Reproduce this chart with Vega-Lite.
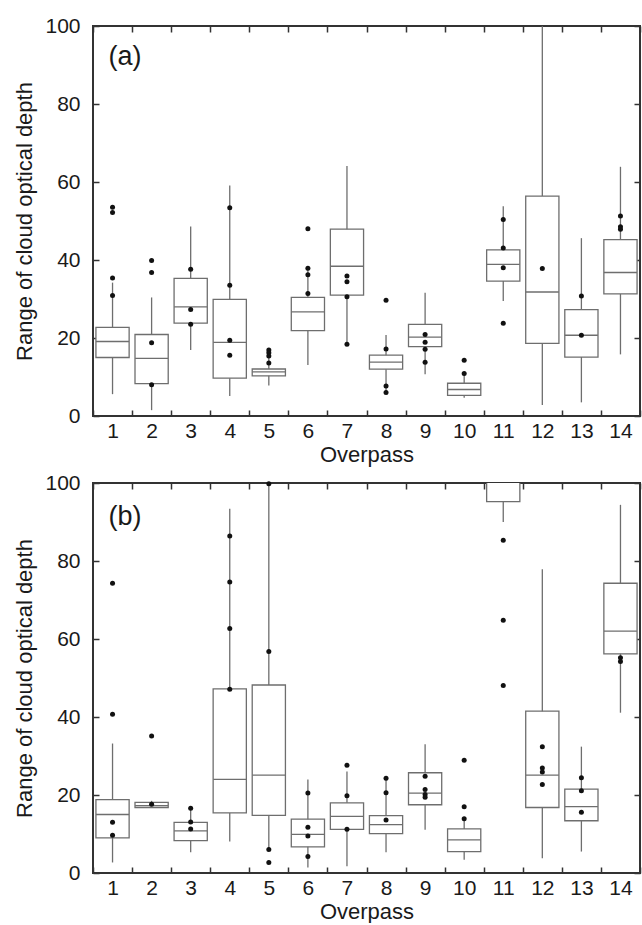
{
  "$schema": "https://vega.github.io/schema/vega-lite/v6.json",
  "padding": {"left": 12, "top": 14, "right": 1, "bottom": 0},
  "bounds": "flush",
  "spacing": 67,
  "config": {
    "font": "Liberation Sans",
    "view": {"stroke": "#333333", "strokeWidth": 2},
    "axis": {"domain": false, "grid": false, "labelFontSize": 21, "titleFontSize": 22, "titleFontWeight": "normal", "labelColor": "#1a1a1a", "titleColor": "#1a1a1a", "tickColor": "#333333", "tickSize": -6, "tickWidth": 1.5, "labelAngle": 0}
  },
  "datasets": {
    "boxes": [
      {"panel": "a", "op": 1, "lo": 5.6, "q1": 15.0, "med": 19.1, "q3": 22.7, "hi": 34.2},
      {"panel": "a", "op": 2, "lo": 1.5, "q1": 8.3, "med": 14.8, "q3": 20.9, "hi": 30.4},
      {"panel": "a", "op": 3, "lo": 16.9, "q1": 23.8, "med": 28.0, "q3": 35.3, "hi": 48.6},
      {"panel": "a", "op": 4, "lo": 5.1, "q1": 9.7, "med": 18.9, "q3": 29.9, "hi": 59.1},
      {"panel": "a", "op": 5, "lo": 7.8, "q1": 10.3, "med": 11.3, "q3": 12.05, "hi": 16.9},
      {"panel": "a", "op": 6, "lo": 13.1, "q1": 21.9, "med": 26.7, "q3": 30.4, "hi": 37.9},
      {"panel": "a", "op": 7, "lo": 18.4, "q1": 31.0, "med": 38.4, "q3": 47.9, "hi": 64.1},
      {"panel": "a", "op": 8, "lo": 6.0, "q1": 12.0, "med": 13.8, "q3": 15.6, "hi": 20.8},
      {"panel": "a", "op": 9, "lo": 10.7, "q1": 17.8, "med": 20.2, "q3": 23.5, "hi": 31.6},
      {"panel": "a", "op": 10, "lo": 4.7, "q1": 5.3, "med": 6.8, "q3": 8.4, "hi": 10.9},
      {"panel": "a", "op": 11, "lo": 29.5, "q1": 34.6, "med": 38.9, "q3": 42.6, "hi": 53.8},
      {"panel": "a", "op": 12, "lo": 2.8, "q1": 18.6, "med": 31.8, "q3": 56.4, "hi": 110},
      {"panel": "a", "op": 13, "lo": 3.5, "q1": 15.1, "med": 20.7, "q3": 27.3, "hi": 45.6},
      {"panel": "a", "op": 14, "lo": 15.8, "q1": 31.3, "med": 36.8, "q3": 45.2, "hi": 63.9},
      {"panel": "b", "op": 1, "lo": 2.7, "q1": 9.0, "med": 15.0, "q3": 18.8, "hi": 33.2},
      {"panel": "b", "op": 2, "lo": 16.8, "q1": 16.8, "med": 17.3, "q3": 18.1, "hi": 18.5},
      {"panel": "b", "op": 3, "lo": 5.3, "q1": 8.3, "med": 10.8, "q3": 13.0, "hi": 16.6},
      {"panel": "b", "op": 4, "lo": 8.1, "q1": 15.4, "med": 24.0, "q3": 47.2, "hi": 93.4},
      {"panel": "b", "op": 5, "lo": 6.0, "q1": 14.8, "med": 25.1, "q3": 48.2, "hi": 99.5},
      {"panel": "b", "op": 6, "lo": 1.4, "q1": 6.7, "med": 9.9, "q3": 13.8, "hi": 24.0},
      {"panel": "b", "op": 7, "lo": 1.7, "q1": 11.2, "med": 14.5, "q3": 18.0, "hi": 26.0},
      {"panel": "b", "op": 8, "lo": 5.3, "q1": 10.1, "med": 12.4, "q3": 14.7, "hi": 24.3},
      {"panel": "b", "op": 9, "lo": 11.1, "q1": 17.5, "med": 20.5, "q3": 25.7, "hi": 33.0},
      {"panel": "b", "op": 10, "lo": 3.4, "q1": 5.5, "med": 8.5, "q3": 11.3, "hi": 13.9},
      {"panel": "b", "op": 11, "lo": 90.0, "q1": 95.2, "med": 105, "q3": 115, "hi": 120},
      {"panel": "b", "op": 12, "lo": 3.8, "q1": 16.8, "med": 25.1, "q3": 41.5, "hi": 77.9},
      {"panel": "b", "op": 13, "lo": 5.5, "q1": 13.4, "med": 17.0, "q3": 21.5, "hi": 32.4},
      {"panel": "b", "op": 14, "lo": 41.1, "q1": 56.2, "med": 62.0, "q3": 74.3, "hi": 94.4}
    ],
    "pts": [
      {"panel": "a", "op": 1, "v": 53.5}, {"panel": "a", "op": 1, "v": 52.2}, {"panel": "a", "op": 1, "v": 35.4}, {"panel": "a", "op": 1, "v": 30.9},
      {"panel": "a", "op": 2, "v": 39.9}, {"panel": "a", "op": 2, "v": 36.8}, {"panel": "a", "op": 2, "v": 18.8}, {"panel": "a", "op": 2, "v": 8.0},
      {"panel": "a", "op": 3, "v": 37.6}, {"panel": "a", "op": 3, "v": 27.3}, {"panel": "a", "op": 3, "v": 23.5},
      {"panel": "a", "op": 4, "v": 53.4}, {"panel": "a", "op": 4, "v": 33.5}, {"panel": "a", "op": 4, "v": 19.4}, {"panel": "a", "op": 4, "v": 15.6},
      {"panel": "a", "op": 5, "v": 16.9}, {"panel": "a", "op": 5, "v": 16.2}, {"panel": "a", "op": 5, "v": 15.4}, {"panel": "a", "op": 5, "v": 13.6},
      {"panel": "a", "op": 6, "v": 48.0}, {"panel": "a", "op": 6, "v": 37.9}, {"panel": "a", "op": 6, "v": 36.2}, {"panel": "a", "op": 6, "v": 31.4},
      {"panel": "a", "op": 7, "v": 35.9}, {"panel": "a", "op": 7, "v": 34.4}, {"panel": "a", "op": 7, "v": 30.6}, {"panel": "a", "op": 7, "v": 18.4},
      {"panel": "a", "op": 8, "v": 29.7}, {"panel": "a", "op": 8, "v": 17.2}, {"panel": "a", "op": 8, "v": 7.7}, {"panel": "a", "op": 8, "v": 6.0},
      {"panel": "a", "op": 9, "v": 20.9}, {"panel": "a", "op": 9, "v": 18.9}, {"panel": "a", "op": 9, "v": 17.1}, {"panel": "a", "op": 9, "v": 13.8},
      {"panel": "a", "op": 10, "v": 14.3}, {"panel": "a", "op": 10, "v": 10.9},
      {"panel": "a", "op": 11, "v": 50.4}, {"panel": "a", "op": 11, "v": 43.1}, {"panel": "a", "op": 11, "v": 38.0}, {"panel": "a", "op": 11, "v": 23.8},
      {"panel": "a", "op": 12, "v": 37.8},
      {"panel": "a", "op": 13, "v": 30.8}, {"panel": "a", "op": 13, "v": 20.7},
      {"panel": "a", "op": 14, "v": 51.3}, {"panel": "a", "op": 14, "v": 48.5}, {"panel": "a", "op": 14, "v": 47.9},
      {"panel": "b", "op": 1, "v": 74.3}, {"panel": "b", "op": 1, "v": 40.7}, {"panel": "b", "op": 1, "v": 13.0}, {"panel": "b", "op": 1, "v": 9.7},
      {"panel": "b", "op": 2, "v": 35.1}, {"panel": "b", "op": 2, "v": 17.6},
      {"panel": "b", "op": 3, "v": 16.6}, {"panel": "b", "op": 3, "v": 13.1}, {"panel": "b", "op": 3, "v": 11.3},
      {"panel": "b", "op": 4, "v": 86.4}, {"panel": "b", "op": 4, "v": 74.6}, {"panel": "b", "op": 4, "v": 62.7}, {"panel": "b", "op": 4, "v": 47.1},
      {"panel": "b", "op": 5, "v": 99.8}, {"panel": "b", "op": 5, "v": 56.8}, {"panel": "b", "op": 5, "v": 6.0}, {"panel": "b", "op": 5, "v": 2.7},
      {"panel": "b", "op": 6, "v": 20.5}, {"panel": "b", "op": 6, "v": 11.7}, {"panel": "b", "op": 6, "v": 9.5}, {"panel": "b", "op": 6, "v": 4.2},
      {"panel": "b", "op": 7, "v": 27.6}, {"panel": "b", "op": 7, "v": 19.8}, {"panel": "b", "op": 7, "v": 11.2},
      {"panel": "b", "op": 8, "v": 24.3}, {"panel": "b", "op": 8, "v": 20.6}, {"panel": "b", "op": 8, "v": 13.6},
      {"panel": "b", "op": 9, "v": 24.8}, {"panel": "b", "op": 9, "v": 21.4}, {"panel": "b", "op": 9, "v": 20.1}, {"panel": "b", "op": 9, "v": 19.4},
      {"panel": "b", "op": 10, "v": 28.9}, {"panel": "b", "op": 10, "v": 17.0}, {"panel": "b", "op": 10, "v": 13.9},
      {"panel": "b", "op": 11, "v": 85.3}, {"panel": "b", "op": 11, "v": 64.8}, {"panel": "b", "op": 11, "v": 48.1},
      {"panel": "b", "op": 12, "v": 32.4}, {"panel": "b", "op": 12, "v": 26.9}, {"panel": "b", "op": 12, "v": 25.9}, {"panel": "b", "op": 12, "v": 22.7},
      {"panel": "b", "op": 13, "v": 24.4}, {"panel": "b", "op": 13, "v": 21.1}, {"panel": "b", "op": 13, "v": 15.6},
      {"panel": "b", "op": 14, "v": 55.2}, {"panel": "b", "op": 14, "v": 54.2}
    ],
    "labels": [
      {"panel": "a", "op": 1, "v": 92, "label": "(a)"},
      {"panel": "b", "op": 1, "v": 91.3, "label": "(b)"}
    ]
  },
  "vconcat": [
    {
      "width": 547, "height": 390,
      "resolve": {"axis": {"x": "independent", "y": "independent"}},
      "layer": [
        {
          "data": {"name": "boxes"}, "transform": [{"filter": "datum.panel == 'a'"}],
          "mark": {"type": "rule", "color": "#6e6e6e", "strokeWidth": 1.3, "clip": true},
          "encoding": {
            "x": {"field": "op", "type": "ordinal", "scale": {"domain": [1,2,3,4,5,6,7,8,9,10,11,12,13,14], "paddingInner": 0, "paddingOuter": 0}, "axis": {"orient": "bottom", "title": "Overpass", "tickBand": "extent", "labelPadding": 10, "titlePadding": 3}},
            "y": {"field": "lo", "type": "quantitative", "scale": {"domain": [0, 100], "nice": false}, "axis": {"orient": "left", "values": [0,20,40,60,80,100], "title": "Range of cloud optical depth", "labelPadding": 19, "titlePadding": 8}},
            "y2": {"field": "hi"}
          }
        },
        {
          "data": {"name": "boxes"}, "transform": [{"filter": "datum.panel == 'a'"}],
          "mark": {"type": "bar", "fill": "white", "stroke": "#6e6e6e", "strokeWidth": 1.3, "width": {"band": 0.85}, "clip": true},
          "encoding": {
            "x": {"field": "op", "type": "ordinal", "axis": {"orient": "top", "labels": false, "title": null, "tickBand": "extent"}},
            "y": {"field": "q1", "type": "quantitative", "axis": {"orient": "right", "labels": false, "title": null, "values": [0,20,40,60,80,100]}},
            "y2": {"field": "q3"}
          }
        },
        {
          "data": {"name": "boxes"}, "transform": [{"filter": "datum.panel == 'a'"}],
          "mark": {"type": "tick", "color": "#6e6e6e", "thickness": 1.3, "size": 33, "opacity": 1, "clip": true},
          "encoding": {
            "x": {"field": "op", "type": "ordinal", "axis": null},
            "y": {"field": "med", "type": "quantitative", "axis": null}
          }
        },
        {
          "data": {"name": "pts"}, "transform": [{"filter": "datum.panel == 'a'"}],
          "mark": {"type": "point", "filled": true, "color": "#111111", "size": 25, "opacity": 1},
          "encoding": {
            "x": {"field": "op", "type": "ordinal", "axis": null},
            "y": {"field": "v", "type": "quantitative", "axis": null}
          }
        },
        {
          "data": {"name": "labels"}, "transform": [{"filter": "datum.panel == 'a'"}],
          "mark": {"type": "text", "align": "left", "baseline": "middle", "fontSize": 27, "dx": -4, "color": "#1a1a1a"},
          "encoding": {
            "x": {"field": "op", "type": "ordinal", "axis": null},
            "y": {"field": "v", "type": "quantitative", "axis": null},
            "text": {"field": "label"}
          }
        }
      ]
    },
    {
      "width": 547, "height": 390,
      "resolve": {"axis": {"x": "independent", "y": "independent"}},
      "layer": [
        {
          "data": {"name": "boxes"}, "transform": [{"filter": "datum.panel == 'b'"}],
          "mark": {"type": "rule", "color": "#6e6e6e", "strokeWidth": 1.3, "clip": true},
          "encoding": {
            "x": {"field": "op", "type": "ordinal", "scale": {"domain": [1,2,3,4,5,6,7,8,9,10,11,12,13,14], "paddingInner": 0, "paddingOuter": 0}, "axis": {"orient": "bottom", "title": "Overpass", "tickBand": "extent", "labelPadding": 10, "titlePadding": 3}},
            "y": {"field": "lo", "type": "quantitative", "scale": {"domain": [0, 100], "nice": false}, "axis": {"orient": "left", "values": [0,20,40,60,80,100], "title": "Range of cloud optical depth", "labelPadding": 19, "titlePadding": 8}},
            "y2": {"field": "hi"}
          }
        },
        {
          "data": {"name": "boxes"}, "transform": [{"filter": "datum.panel == 'b'"}],
          "mark": {"type": "bar", "fill": "white", "stroke": "#6e6e6e", "strokeWidth": 1.3, "width": {"band": 0.85}, "clip": true},
          "encoding": {
            "x": {"field": "op", "type": "ordinal", "axis": {"orient": "top", "labels": false, "title": null, "tickBand": "extent"}},
            "y": {"field": "q1", "type": "quantitative", "axis": {"orient": "right", "labels": false, "title": null, "values": [0,20,40,60,80,100]}},
            "y2": {"field": "q3"}
          }
        },
        {
          "data": {"name": "boxes"}, "transform": [{"filter": "datum.panel == 'b'"}],
          "mark": {"type": "tick", "color": "#6e6e6e", "thickness": 1.3, "size": 33, "opacity": 1, "clip": true},
          "encoding": {
            "x": {"field": "op", "type": "ordinal", "axis": null},
            "y": {"field": "med", "type": "quantitative", "axis": null}
          }
        },
        {
          "data": {"name": "pts"}, "transform": [{"filter": "datum.panel == 'b'"}],
          "mark": {"type": "point", "filled": true, "color": "#111111", "size": 25, "opacity": 1},
          "encoding": {
            "x": {"field": "op", "type": "ordinal", "axis": null},
            "y": {"field": "v", "type": "quantitative", "axis": null}
          }
        },
        {
          "data": {"name": "labels"}, "transform": [{"filter": "datum.panel == 'b'"}],
          "mark": {"type": "text", "align": "left", "baseline": "middle", "fontSize": 27, "dx": -4, "color": "#1a1a1a"},
          "encoding": {
            "x": {"field": "op", "type": "ordinal", "axis": null},
            "y": {"field": "v", "type": "quantitative", "axis": null},
            "text": {"field": "label"}
          }
        }
      ]
    }
  ]
}
